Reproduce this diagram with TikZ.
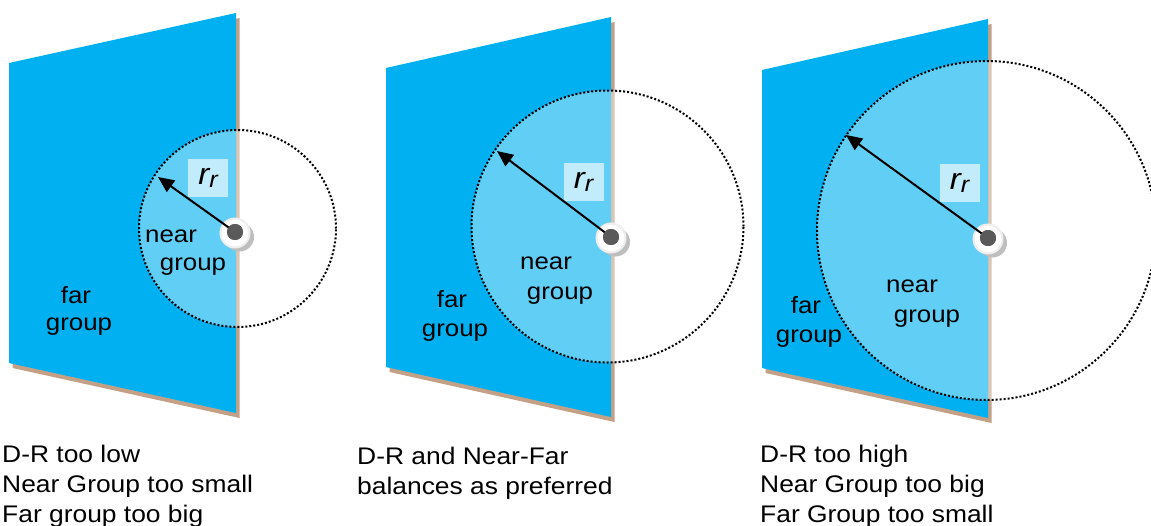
\documentclass[tikz,border=0pt]{standalone}
\usepackage{fontspec}
\setmainfont{Liberation Sans}[FakeStretch=1.1]
\usetikzlibrary{arrows.meta}
\definecolor{wallblue}{RGB}{0,176,240}
\definecolor{wallbrown}{RGB}{196,160,134}
\definecolor{dotdark}{RGB}{90,90,90}
\definecolor{ringshadow}{RGB}{190,190,190}
\definecolor{ringgray}{RGB}{238,238,238}
\tikzset{
  wallface/.style={fill=wallblue},
  wallshadow/.style={fill=wallbrown},
  glowarea/.style={fill=white,fill opacity=0.38},
  rangeline/.style={draw=black,line width=2pt,dash pattern=on 2pt off 2pt},
  lbltext/.style={inner sep=0pt,anchor=base,font=\fontsize{23.5}{23.5}\selectfont},
  captext/.style={inner sep=0pt,anchor=base west,font=\fontsize{24}{24}\selectfont},
  rbox/.style={fill={rgb,255:red,194;green,236;blue,251},inner sep=0pt,minimum width=40pt,minimum height=38pt},
  radiusarrow/.style={draw=black,line width=2pt,-{Triangle[length=16pt,width=14pt]}},
  ringsh/.style={circle,fill=ringshadow,minimum size=29pt,inner sep=0pt},
  ringw/.style={circle,fill=white,draw=ringgray,line width=2pt,minimum size=29pt,inner sep=0pt},
  coredot/.style={circle,fill=dotdark,minimum size=16pt,inner sep=0pt}
}
\newcommand{\rr}{\fontsize{30}{30}\selectfont\itshape r\raisebox{-3pt}{\fontsize{23}{23}\selectfont\itshape r}}
\begin{document}
\begin{tikzpicture}[x=1pt,y=-1pt]
\useasboundingbox (0,0) rectangle (1151,525);
% ---------- panel 1 ----------
\fill[wallshadow] (12.5,68) -- (239.5,18) -- (239.5,418) -- (12.5,368) -- cycle;
\fill[wallface] (9,63) -- (236,13) -- (236,413) -- (9,363) -- cycle;
\fill[glowarea] (237.5,228.5) circle[radius=98.5pt];
\draw[rangeline] (237.5,228.5) circle[radius=98.5pt];
\node[lbltext] (n1a) at (171,242) {near};
\node[lbltext] (n1b) at (193,270) {group};
\node[lbltext] (f1a) at (76,303) {far};
\node[lbltext] (f1b) at (79,330) {group};
\node[rbox] (r1) at (208,178) {\rr};
\node[ringsh] (s1) at (239.5,237) {};
\node[ringw] (g1) at (235,233) {};
\coordinate (t1) at (158,177);
\node[coredot] (d1) at (235,232) {};
\draw[radiusarrow] (d1.center) -- (t1);
\node[coredot] at (d1) {};
% ---------- panel 2 ----------
\fill[wallshadow] (389.5,72) -- (614.5,22) -- (614.5,422) -- (389.5,372) -- cycle;
\fill[wallface] (386,68) -- (611,17) -- (611,417) -- (386,367) -- cycle;
\fill[glowarea] (607.5,226.5) circle[radius=136pt];
\draw[rangeline] (607.5,226.5) circle[radius=136pt];
\node[lbltext] (n2a) at (546,269) {near};
\node[lbltext] (n2b) at (560,299) {group};
\node[lbltext] (f2a) at (452,307) {far};
\node[lbltext] (f2b) at (455,336) {group};
\node[rbox] (r2) at (583.5,182) {\rr};
\node[ringsh] (s2) at (615.5,242) {};
\node[ringw] (g2) at (611,238) {};
\coordinate (t2) at (497,151);
\node[coredot] (d2) at (611,237) {};
\draw[radiusarrow] (d2.center) -- (t2);
\node[coredot] at (d2) {};
% ---------- panel 3 ----------
\fill[wallshadow] (765.5,74) -- (991.5,24) -- (991.5,423) -- (765.5,373) -- cycle;
\fill[wallface] (762,70) -- (988,19) -- (988,418) -- (762,368) -- cycle;
\fill[glowarea] (986.5,230.5) circle[radius=169.5pt];
\draw[rangeline] (986.5,230.5) circle[radius=169.5pt];
\node[lbltext] (n3a) at (912,292) {near};
\node[lbltext] (n3b) at (927,322) {group};
\node[lbltext] (f3a) at (806,313) {far};
\node[lbltext] (f3b) at (809,342) {group};
\node[rbox] (r3) at (959.5,183) {\rr};
\node[ringsh] (s3) at (992.5,243) {};
\node[ringw] (g3) at (988,239) {};
\coordinate (t3) at (846,135);
\node[coredot] (d3) at (988,238) {};
\draw[radiusarrow] (d3.center) -- (t3);
\node[coredot] at (d3) {};
% ---------- captions ----------
\node[captext] (c1a) at (2,462) {D-R too low};
\node[captext] (c1b) at (2,492) {Near Group too small};
\node[captext] (c1c) at (2,522) {Far group too big};
\node[captext] (c2a) at (357,464) {D-R and Near-Far};
\node[captext] (c2b) at (357,494) {balances as preferred};
\node[captext] (c3a) at (760,462) {D-R too high};
\node[captext] (c3b) at (760,492) {Near Group too big};
\node[captext] (c3c) at (760,522) {Far Group too small};
\end{tikzpicture}
\end{document}
